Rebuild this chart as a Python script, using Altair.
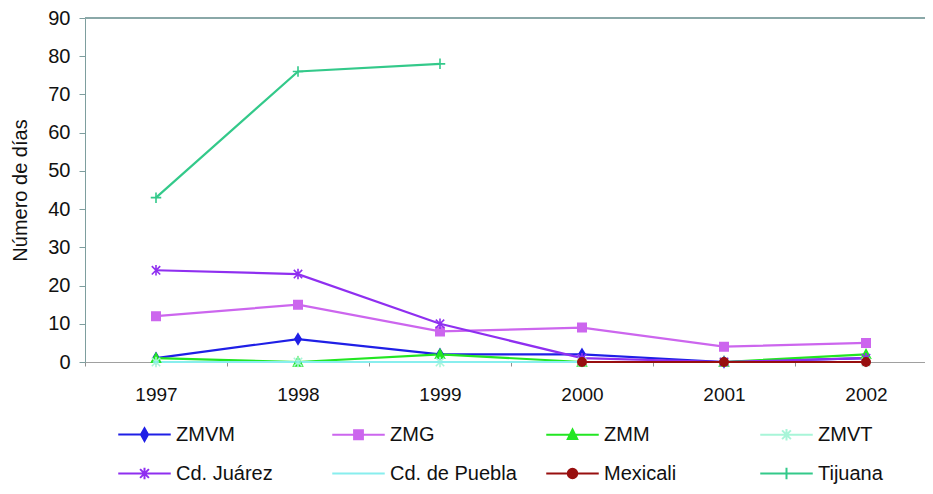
import altair as alt
import pandas as pd

years = ["1997", "1998", "1999", "2000", "2001", "2002"]
series = ["ZMVM", "ZMG", "ZMM", "ZMVT", "Cd. Juárez", "Cd. de Puebla", "Mexicali", "Tijuana"]

zmvm = [1, 6, 2, 2, 0, 1]
zmg = [12, 15, 8, 9, 4, 5]
zmm = [1, 0, 2, 0, 0, 2]
zmvt = [0, 0, 0, 0, 0, 0]
juarez = [24, 23, 10, 1, 0, 1]
puebla = [0, 0, 0, 0, 0, 0]
mexicali = [None, None, None, 0, 0, 0]
tijuana = [43, 76, 78, None, None, None]

colors = ["#1f1fe6", "#cc66ee", "#22e622", "#a8f5d8", "#8f2ff0", "#88eeee", "#980f0f", "#33c98a"]

point_paths = [
    "M0,-1L0.6,0L0,1L-0.6,0Z",
    "M-0.8,-0.8H0.8V0.8H-0.8Z",
    "M0,-0.9L0.85,0.75H-0.85Z",
    "M-0.8,-0.8L0.8,0.8M-0.8,0.8L0.8,-0.8M0,-1V1",
    "M-0.8,-0.8L0.8,0.8M-0.8,0.8L0.8,-0.8M0,-1V1",
    "M-0.6,0H0.6",
    "M-0.8,0A0.8,0.8,0,1,0,0.8,0A0.8,0.8,0,1,0,-0.8,0Z",
    "M-1,0H1M0,-1V1",
]
legend_paths = [
    "M-2.5,0H2.5M0,-0.6L0.34,0L0,0.6L-0.34,0Z",
    "M-2.5,0H2.5M-0.42,-0.42H0.42V0.42H-0.42Z",
    "M-2.5,0H2.5M0,-0.5L0.45,0.4H-0.45Z",
    "M-2.5,0H2.5M-0.42,-0.42L0.42,0.42M-0.42,0.42L0.42,-0.42M0,-0.55V0.55",
    "M-2.5,0H2.5M-0.42,-0.42L0.42,0.42M-0.42,0.42L0.42,-0.42M0,-0.55V0.55",
    "M-2.5,0H2.5",
    "M-2.5,0H2.5M-0.45,0A0.45,0.45,0,1,0,0.45,0A0.45,0.45,0,1,0,-0.45,0Z",
    "M-2.5,0H2.5M0,-0.55V0.55",
]

values = [zmvm, zmg, zmm, zmvt, juarez, puebla, mexicali, tijuana]
rows = []
for s, vals in zip(series, values):
    for y, v in zip(years, vals):
        if v is not None:
            rows.append({"serie": s, "year": y, "dias": v})
df = pd.DataFrame(rows)

xenc = alt.X(
    "year:O",
    scale=alt.Scale(type="band", domain=years, paddingInner=0, paddingOuter=0),
    bandPosition=0.5,
    axis=alt.Axis(
        title=None, tickBand="extent", labelAngle=0, labelFontSize=19,
        labelPadding=19, tickSize=4, domainColor="#a0a0a0", tickColor="#909090",
        labelColor="#111111", labelFont="Liberation Sans",
    ),
)
yscale = alt.Scale(domain=[0, 90], nice=False)
yaxis = alt.Axis(
    title="Número de días", values=list(range(0, 91, 10)), grid=False,
    labelOverlap=False, labelFontSize=20, labelPadding=9, tickSize=6,
    domainColor="#7e9e9e", tickColor="#7e9e9e", titleFontSize=20,
    titleFontWeight="normal", titlePadding=17, labelColor="#111111",
    titleColor="#111111", labelFont="Liberation Sans", titleFont="Liberation Sans",
)
yenc = alt.Y("dias:Q", scale=yscale, axis=yaxis)

cscale = alt.Scale(domain=series, range=colors)

lines = alt.Chart(df).mark_line(strokeWidth=2.2).encode(
    x=xenc, y=yenc,
    color=alt.Color("serie:N", scale=cscale, legend=None, sort=series),
    order=alt.Order("year:O"),
)

points = alt.Chart(df).mark_point(filled=True, size=110, strokeWidth=1.6, opacity=1).encode(
    x=xenc, y=yenc,
    fill=alt.Fill("serie:N", scale=cscale, legend=None),
    stroke=alt.Stroke("serie:N", scale=cscale, legend=None),
    shape=alt.Shape("serie:N", scale=alt.Scale(domain=series, range=point_paths), legend=None),
)

leg = alt.Legend(
    title=None, orient="none", legendX=48, legendY=405, direction="horizontal",
    columns=4, gridAlign="all", columnPadding=25, rowPadding=17,
    symbolSize=441, symbolStrokeWidth=2, labelOffset=20, labelFontSize=20,
    labelFont="Liberation Sans", labelColor="#111111", labelLimit=200,
    symbolOpacity=1, padding=0,
)

legend_layer = alt.Chart(df).mark_point(filled=True, opacity=1).encode(
    x=xenc, y=yenc,
    fill=alt.Fill("serie:N", scale=alt.Scale(domain=series, range=colors), legend=leg, sort=series),
    stroke=alt.Stroke("serie:N", scale=alt.Scale(domain=series, range=colors), legend=leg, sort=series),
    shape=alt.Shape("serie:N", scale=alt.Scale(domain=series, range=legend_paths), legend=leg, sort=series),
).transform_filter("false")

top = alt.Chart(df).mark_rule(color="#8aa8a8", strokeWidth=2).encode(
    y=alt.Y(datum=90, scale=yscale, axis=yaxis)
)

chart = alt.layer(lines, points, legend_layer, top).resolve_scale(
    fill="independent", stroke="independent", shape="independent"
).properties(
    width=852, height=344,
    autosize=alt.AutoSizeParams(type="none"),
    padding={"left": 77, "top": 10, "right": -12, "bottom": 124},
).configure_view(stroke=None).configure(background="white")

chart.save("out.html", embed_options={"renderer": "svg", "actions": False})
